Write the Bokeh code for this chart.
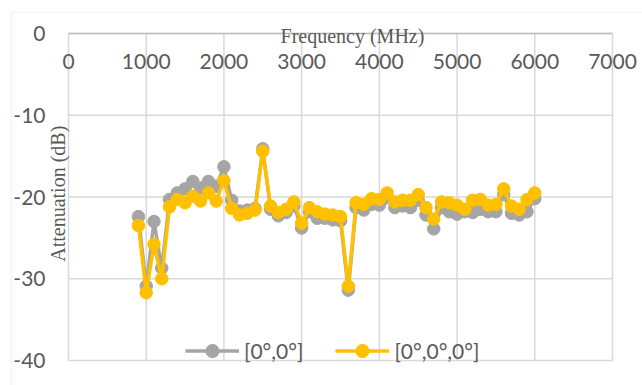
import math

from bokeh.plotting import figure
from bokeh.models import (ColumnDataSource, Range1d, LinearAxis, FixedTicker,
                          Legend, LegendItem, Label, BoxAnnotation,
                          CustomJSTickFormatter)
from bokeh.embed import file_html
from bokeh.resources import INLINE

# Measured attenuation versus frequency for two arrangements
freq_mhz = [900, 1000, 1100, 1200, 1300, 1400, 1500, 1600, 1700, 1800,
            1900, 2000, 2100, 2200, 2300, 2400, 2500, 2600, 2700, 2800,
            2900, 3000, 3100, 3200, 3300, 3400, 3500, 3600, 3700, 3800,
            3900, 4000, 4100, 4200, 4300, 4400, 4500, 4600, 4700, 4800,
            4900, 5000, 5100, 5200, 5300, 5400, 5500, 5600, 5700, 5800,
            5900, 6000]

att_two = [-22.4, -30.9, -23.0, -28.7, -20.3, -19.5, -19.0, -18.1, -18.9, -18.1,
           -18.7, -16.3, -20.4, -21.7, -21.6, -21.4, -14.1, -21.5, -22.3, -21.9,
           -21.1, -23.8, -21.8, -22.6, -22.6, -22.8, -22.9, -31.4, -21.3, -21.6,
           -20.9, -21.0, -20.1, -21.3, -21.1, -21.3, -20.4, -22.2, -23.9, -21.3,
           -21.8, -22.1, -21.8, -21.9, -21.5, -21.8, -21.8, -19.7, -22.0, -22.2,
           -21.8, -20.2]

att_three = [-23.5, -31.7, -25.8, -30.0, -21.2, -20.3, -20.7, -19.9, -20.5, -19.5,
             -20.5, -18.0, -21.4, -22.2, -22.0, -21.6, -14.4, -21.1, -21.9, -21.5,
             -20.6, -23.2, -21.3, -21.8, -22.1, -22.2, -22.4, -30.9, -20.7, -20.9,
             -20.2, -20.3, -19.5, -20.6, -20.4, -20.4, -19.7, -21.3, -22.7, -20.6,
             -20.7, -21.0, -21.5, -20.4, -20.3, -21.0, -20.9, -19.0, -21.1, -21.5,
             -20.3, -19.5]

x_ticks = [0, 1000, 2000, 3000, 4000, 5000, 6000, 7000]
y_ticks = [-40, -30, -20, -10, 0]
series_names = ["[0°,0°]", "[0°,0°,0°]"]

GRAY = "#A5A5A5"
GOLD = "#FFC000"
TEXT = "#595959"
GRID = "#D9D9D9"

W, H = 642, 385
# plot area inside the canvas (pixels from the left / top)
PA_LEFT, PA_RIGHT, PA_TOP, PA_BOTTOM = 68, 612, 33, 360

x_lo, x_hi = x_ticks[0], x_ticks[-1]
y_lo, y_hi = y_ticks[0], y_ticks[-1]
kx = (PA_RIGHT - PA_LEFT) / (x_hi - x_lo)
ky = (PA_BOTTOM - PA_TOP) / (y_hi - y_lo)

# the frame covers the whole canvas; ranges are padded so the plot area lands in place
p = figure(width=W, height=H, output_backend="svg", toolbar_location=None,
           x_range=Range1d(x_lo - PA_LEFT / kx, x_hi + (W - PA_RIGHT) / kx),
           y_range=Range1d(y_lo - (H - PA_BOTTOM) / ky, y_hi + PA_TOP / ky),
           x_axis_location=None, y_axis_location=None,
           min_border_left=0, min_border_right=0,
           min_border_top=0, min_border_bottom=0)
p.outline_line_color = None
p.grid.visible = False
p.background_fill_color = "white"
p.border_fill_color = "white"

# Chart area border
p.add_layout(BoxAnnotation(left=11, top=12, right=W + 20, bottom=H + 20,
                           left_units="canvas", top_units="canvas",
                           right_units="canvas", bottom_units="canvas",
                           fill_alpha=0, line_color=GRID, line_width=1.5,
                           level="underlay"))

# Gridlines limited to the plot area
p.segment(x0=x_ticks, y0=[y_lo] * len(x_ticks), x1=x_ticks, y1=[y_hi] * len(x_ticks),
          line_color=GRID, line_width=1.5)
p.segment(x0=[x_lo] * len(y_ticks), y0=y_ticks, x1=[x_hi] * len(y_ticks), y1=y_ticks,
          line_color=GRID, line_width=1.5)

plain = CustomJSTickFormatter(code="return tick.toFixed(0)")

# Horizontal axis crosses at 0 dB (top edge), labels hang below it
xaxis = LinearAxis(fixed_location=0, bounds=(x_lo, x_hi),
                   ticker=FixedTicker(ticks=x_ticks), formatter=plain,
                   axis_line_color="#BFBFBF", axis_line_width=1.5,
                   major_tick_in=0, major_tick_out=0, minor_tick_line_color=None,
                   major_label_standoff=20,
                   major_label_text_font="Lato",
                   major_label_text_font_size="21px",
                   major_label_text_color=TEXT)
p.add_layout(xaxis, "below")

yaxis = LinearAxis(fixed_location=0, bounds=(y_lo, y_hi),
                   ticker=FixedTicker(ticks=y_ticks), formatter=plain,
                   axis_line_color=None,
                   major_tick_in=0, major_tick_out=0, minor_tick_line_color=None,
                   major_label_standoff=23,
                   major_label_text_font="Lato",
                   major_label_text_font_size="21px",
                   major_label_text_color=TEXT)
p.add_layout(yaxis, "left")

# Series
src = ColumnDataSource(dict(freq=freq_mhz, two=att_two, three=att_three))
l1 = p.line("freq", "two", source=src, line_color=GRAY, line_width=3.5)
s1 = p.scatter("freq", "two", source=src, marker="circle", size=12.5,
               fill_color=GRAY, line_color=GRAY, line_width=1)
l2 = p.line("freq", "three", source=src, line_color=GOLD, line_width=3.5)
s2 = p.scatter("freq", "three", source=src, marker="circle", size=12.5,
               fill_color=GOLD, line_color=GOLD, line_width=1)

# Axis titles
p.add_layout(Label(x=3654, y=-0.25, text="Frequency (MHz)",
                   text_font="Liberation Serif", text_font_size="20px",
                   text_color=TEXT, text_align="center", text_baseline="middle"))
p.add_layout(Label(x=-129, y=-19.6, text="Attenuation (dB)", angle=math.pi / 2,
                   text_font="Liberation Serif", text_font_size="20px",
                   text_color=TEXT, text_align="center", text_baseline="middle"))

# Legend along the bottom of the plot area
legend = Legend(items=[LegendItem(label=series_names[0], renderers=[l1, s1]),
                       LegendItem(label=series_names[1], renderers=[l2, s2])],
                location=(185, 18), orientation="horizontal",
                glyph_width=54, glyph_height=33, label_standoff=5, spacing=32,
                padding=0, margin=0,
                label_text_font="Lato", label_text_font_size="21px",
                label_text_color=TEXT,
                background_fill_alpha=0, border_line_alpha=0)
p.add_layout(legend, "center")

with open("out.html", "w") as f:
    f.write(file_html(p, INLINE))
